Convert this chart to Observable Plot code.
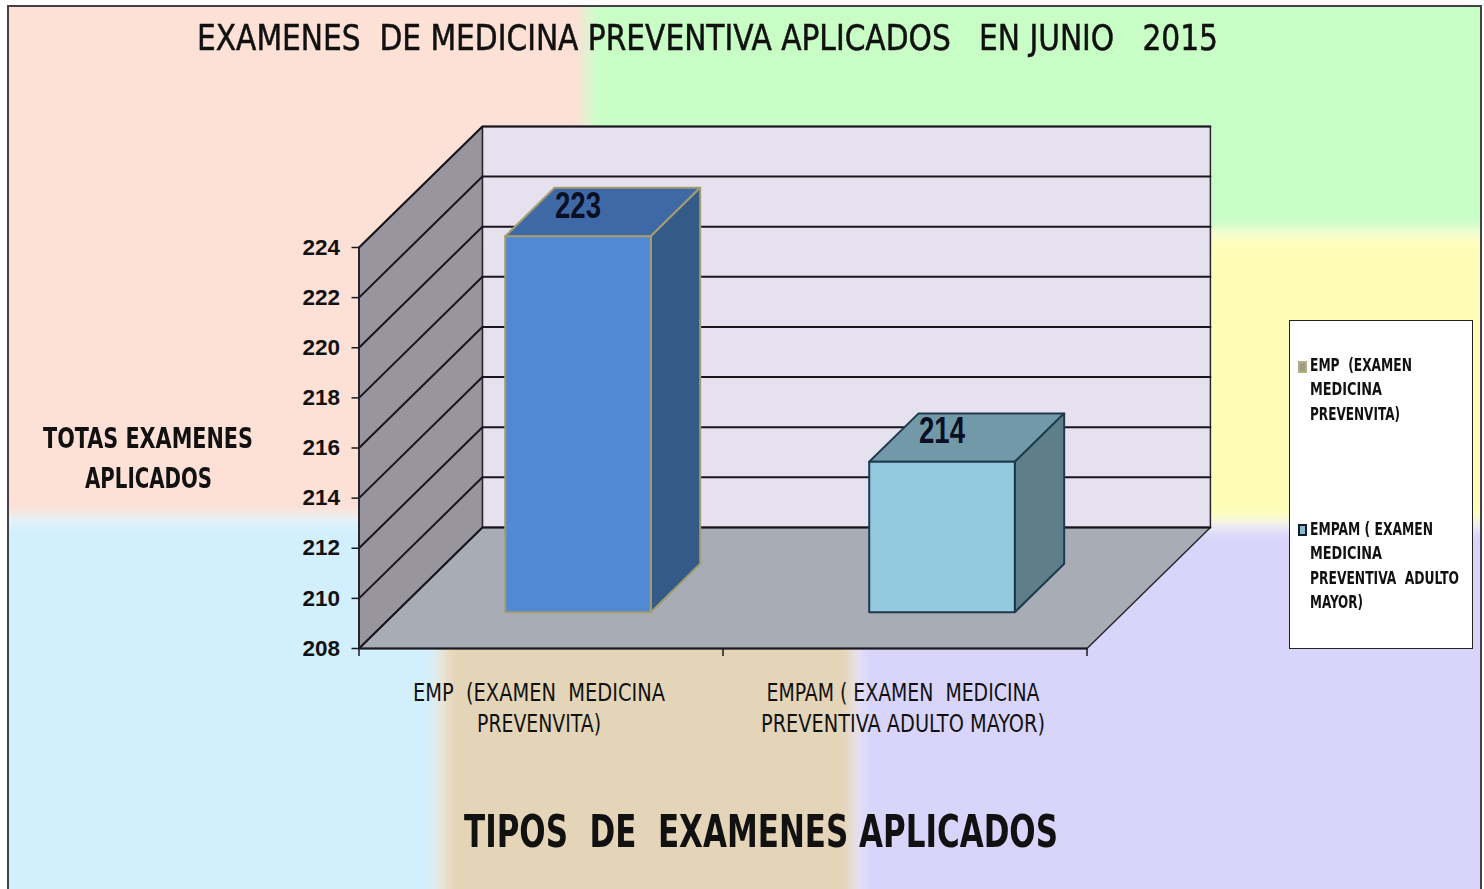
<!DOCTYPE html>
<html><head><meta charset="utf-8">
<script src="https://cdn.jsdelivr.net/npm/d3@7"></script>
<script src="https://cdn.jsdelivr.net/npm/@observablehq/plot@0.6"></script>
<style>
html,body{margin:0;padding:0;background:#fff;overflow:hidden}
#page{position:relative;width:1484px;height:889px;overflow:hidden;font-family:"DejaVu Sans Condensed",Lato,sans-serif;color:#111}
#frame{position:absolute;left:7px;top:5px;right:2px;bottom:-4px;overflow:hidden;border-left:2px solid #45404a;border-top:2px solid #45404a;border-right:2px solid #45404a}
#bg{position:absolute;inset:0}
.patch{position:absolute;filter:blur(8px)}
#chart{position:absolute;left:0;top:0}
.t{position:absolute;white-space:pre;transform-origin:0 0;line-height:1}
#title{-webkit-text-stroke:.5px #111}
#legend{position:absolute;left:1289px;top:320px;width:184px;height:329px;background:#fff;border:1.5px solid #222;box-sizing:border-box}
.sw{position:absolute;width:9px;height:12px;box-sizing:border-box}
</style></head>
<body>
<div id="page">
  <div id="frame"><div id="bg">
    <div class="patch" style="left:-30px;top:-30px;width:616px;height:542px;background:#fde0d6"></div>
    <div class="patch" style="left:578px;top:-30px;width:930px;height:256px;background:#c8fdc6"></div>
    <div class="patch" style="left:578px;top:226px;width:930px;height:290px;background:#fdfdb8"></div>
    <div class="patch" style="left:-30px;top:512px;width:462px;height:400px;background:#d2effd"></div>
    <div class="patch" style="left:432px;top:512px;width:416px;height:400px;background:#e4d5b8"></div>
    <div class="patch" style="left:848px;top:520px;width:660px;height:392px;background:#d8d4fa"></div>
  </div></div>
  <div id="chart"></div>
  <div class="t" id="title" data-fit="1021" style="left:197px;top:20px;font-size:36px">EXAMENES  DE MEDICINA PREVENTIVA APLICADOS   EN JUNIO   2015</div>
  <div class="t" data-fit="210" style="left:43px;top:424px;font-size:29px;font-weight:700">TOTAS EXAMENES</div>
  <div class="t" data-fit="127" style="left:85px;top:464px;font-size:29px;font-weight:700">APLICADOS</div>
  <div class="t" data-fit="594" style="left:464px;top:810px;font-size:44px;font-weight:700">TIPOS  DE  EXAMENES APLICADOS</div>
  <div id="legend"></div>
</div>
<script>
const categories = ["EMP  (EXAMEN  MEDICINA\nPREVENVITA)", "EMPAM ( EXAMEN  MEDICINA\nPREVENTIVA ADULTO MAYOR)"];
const totals = [223, 214];
const yTicks = [208, 210, 212, 214, 216, 218, 220, 222, 224];
const xTicks = [0, 1, 2];
const legendLines = [
  ["EMP  (EXAMEN", "MEDICINA", "PREVENVITA)"],
  ["EMPAM ( EXAMEN", "MEDICINA", "PREVENTIVA  ADULTO", "MAYOR)"]
];

// Oblique projection: depth d in [0,1] shifts a point in data units.
const DX = 0.339, DV = 4.83;
const yMin = 208, yMax = 224;
const P = (x, v, d) => ({x: x + d * DX, y: v + d * DV});
const poly = (pts, o) => Plot.line([...pts, pts[0]], {x: "x", y: "y", ...o});

const wallBack = [P(0, yMin, 1), P(2, yMin, 1), P(2, yMax, 1), P(0, yMax, 1)];
const wallLeft = [P(0, yMin, 0), P(0, yMin, 1), P(0, yMax, 1), P(0, yMax, 0)];
const floorFace = [P(0, yMin, 0), P(2, yMin, 0), P(2, yMin, 1), P(0, yMin, 1)];

const barStyles = [
  {front: "#5289d4", topFace: "#3f69a6", side: "#345a88", edge: "#a39c70"},
  {front: "#93cadf", topFace: "#7299a8", side: "#5e7f8a", edge: "#1f3a4e"}
];
const barMarks = totals.flatMap((v, i) => {
  const s = barStyles[i], l = i + 0.3, r = i + 0.7, d0 = 0.3, d1 = 0.7;
  const o = {stroke: s.edge, strokeWidth: 2, strokeLinejoin: "round"};
  return [
    poly([P(l, v, d0), P(r, v, d0), P(r, v, d1), P(l, v, d1)], {fill: s.topFace, ...o}),
    poly([P(r, yMin, d0), P(r, yMin, d1), P(r, v, d1), P(r, v, d0)], {fill: s.side, ...o}),
    poly([P(l, yMin, d0), P(r, yMin, d0), P(r, v, d0), P(l, v, d0)], {fill: s.front, ...o})
  ];
});
const labelRows = totals.map((v, i) => ({...P(i + 0.5, v, 0.3), v}));

const grid = yTicks.map(v =>
  Plot.line([P(0, v, 0), P(0, v, 1), P(2, v, 1)], {x: "x", y: "y", stroke: "#18161c", strokeWidth: 2})
);

const plot = Plot.plot({
  width: 1484, height: 889,
  marginLeft: 358.5, marginRight: 397.5, marginTop: 247, marginBottom: 241,
  style: {background: "transparent", overflow: "visible", color: "#111"},
  x: {domain: [0, 2], axis: null},
  y: {domain: [yMin, yMax], axis: null},
  marks: [
    poly(wallBack, {fill: "#e6e1ee", stroke: "#2a262c", strokeWidth: 1.5}),
    poly(wallLeft, {fill: "#99959e", stroke: "#2a262c", strokeWidth: 1.5}),
    poly(floorFace, {fill: "#a8adb5", stroke: "#2a262c", strokeWidth: 1.5}),
    ...grid,
    Plot.line([P(0, yMin, 0), P(2, yMin, 0)], {x: "x", y: "y", stroke: "#1c1a20", strokeWidth: 2}),
    Plot.line([P(0, yMin, 0), P(0, yMax, 0)], {x: "x", y: "y", stroke: "#1c1a20", strokeWidth: 1.5}),
    ...barMarks,
    Plot.text(labelRows, {x: "x", y: "y", text: "v", dy: -30, fontSize: 36, fontWeight: 700, fill: "#0a0f24",
      fontFamily: "'Liberation Sans', sans-serif", className: "value-label"}),
    Plot.axisY(yTicks, {anchor: "left", label: null, tickSize: 7, tickPadding: 12, fontSize: 22.5, fontWeight: 700, stroke: "#1c1a20", strokeWidth: 1.5, fill: "#111", tickFormat: d => String(d),
      fontFamily: "'Liberation Sans', sans-serif"}),
    Plot.axisX(xTicks, {anchor: "bottom", label: null, tickSize: 8, tickFormat: () => "", stroke: "#1c1a20", strokeWidth: 1.5}),
    Plot.text(categories, {x: (d, i) => i + 0.5, y: () => yMin, dx: -2, dy: 58, text: d => d, lineHeight: 1.3, fontSize: 24, fill: "#111",
      fontFamily: "'DejaVu Sans Condensed', sans-serif", className: "cat-label"})
  ]
});
document.getElementById("chart").append(plot);

// squeeze the tall narrow chart texts to the reference widths
plot.querySelectorAll(".value-label text").forEach(t => {
  t.setAttribute("textLength", 46);
  t.setAttribute("lengthAdjust", "spacingAndGlyphs");
});
const catLineWidths = [252, 124, 273, 284];
plot.querySelectorAll(".cat-label tspan").forEach((t, i) => {
  t.setAttribute("textLength", catLineWidths[i]);
  t.setAttribute("lengthAdjust", "spacingAndGlyphs");
});

// legend
const legend = document.getElementById("legend");
const legendSwatches = [{top: 40, bg: "#9c9c88", bd: "#b5ad7e"}, {top: 203, bg: "#8fb9cc", bd: "#12202e"}];
const legendTops = [[36, 60, 85], [200, 224, 249, 273]];
const legendWidths = [[102, 72, 90], [123, 72, 149, 53]];
legendLines.forEach((lines, k) => {
  const sw = document.createElement("div");
  sw.className = "sw";
  sw.style.cssText = `left:8px;top:${legendSwatches[k].top}px;background:${legendSwatches[k].bg};border:2px solid ${legendSwatches[k].bd}`;
  legend.append(sw);
  lines.forEach((txt, j) => {
    const e = document.createElement("div");
    e.className = "t";
    e.textContent = txt;
    e.dataset.fit = legendWidths[k][j];
    e.style.cssText = `left:20px;top:${legendTops[k][j]}px;font-size:17px;font-weight:700`;
    legend.append(e);
  });
});
// horizontal fit of the long titles to the reference widths
document.querySelectorAll(".t[data-fit]").forEach(e => {
  const w = e.getBoundingClientRect().width;
  e.style.transform = `scaleX(${+e.dataset.fit / w})`;
});
</script>
</body></html>
